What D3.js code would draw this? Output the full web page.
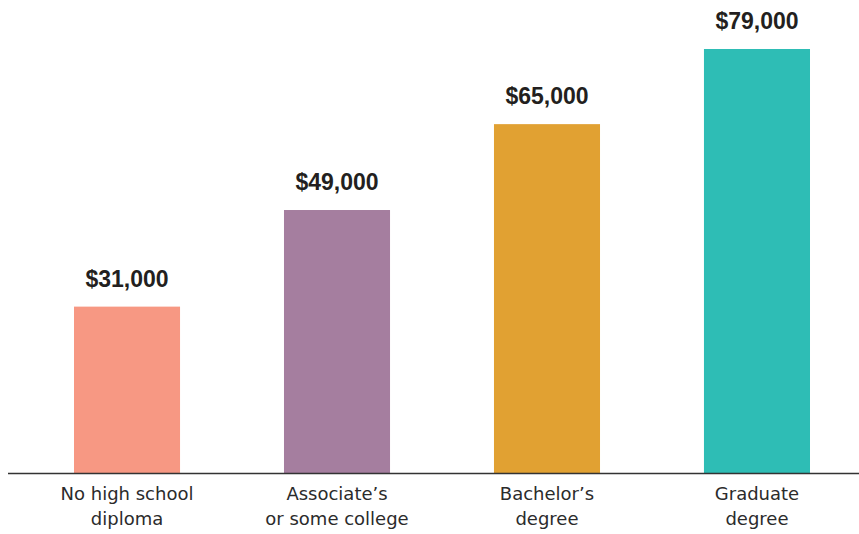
<!DOCTYPE html>
<html>
<head>
<meta charset="utf-8">
<script src="https://cdn.jsdelivr.net/npm/d3@7"></script>
<style>
  html, body { margin: 0; padding: 0; background: #fff; }
  svg { display: block; }
</style>
</head>
<body>
<svg id="chart" width="859" height="534"></svg>
<script>
const categories = [
  ["No high school", "diploma"],
  ["Associate\u2019s", "or some college"],
  ["Bachelor\u2019s", "degree"],
  ["Graduate", "degree"]
];
const values = [31000, 49000, 65000, 79000];
const colors = ["#F79883", "#A57E9F", "#E1A132", "#2EBDB5"];

const svg = d3.select("#chart");
const baseY = 473;

const x = d3.scaleBand()
  .domain(d3.range(values.length))
  .range([21.5, 862.5])
  .paddingInner(0.495)
  .paddingOuter(0.25);

const y = d3.scaleLinear()
  .domain([0, 79000])
  .range([baseY, 49]);

const fmt = v => "$" + d3.format(",")(v);

svg.selectAll("rect.bar")
  .data(values)
  .join("rect")
  .attr("class", "bar")
  .attr("x", (d, i) => x(i))
  .attr("width", x.bandwidth())
  .attr("y", d => y(d))
  .attr("height", d => baseY - y(d))
  .attr("fill", (d, i) => colors[i]);

svg.selectAll("text.val")
  .data(values)
  .join("text")
  .attr("class", "val")
  .attr("x", (d, i) => x(i) + x.bandwidth() / 2)
  .attr("y", d => y(d) - 20)
  .attr("text-anchor", "middle")
  .attr("font-family", "Liberation Sans, Arial, sans-serif")
  .attr("font-weight", "bold")
  .attr("font-size", 23)
  .attr("fill", "#231f20")
  .text(d => fmt(d));

svg.append("line")
  .attr("x1", 8).attr("x2", 859)
  .attr("y1", baseY + 0.5).attr("y2", baseY + 0.5)
  .attr("stroke", "#333")
  .attr("stroke-width", 1.3);

const cat = svg.selectAll("text.cat")
  .data(categories)
  .join("text")
  .attr("class", "cat")
  .attr("text-anchor", "middle")
  .attr("font-family", "DejaVu Sans, sans-serif")
  .attr("font-size", 18)
  .attr("fill", "#2b2b2b");

cat.selectAll("tspan")
  .data((d, i) => d.map(t => ({ t, i })))
  .join("tspan")
  .attr("x", d => x(d.i) + x.bandwidth() / 2)
  .attr("y", (d, j) => baseY + 27 + j * 25)
  .text(d => d.t);
</script>
</body>
</html>
